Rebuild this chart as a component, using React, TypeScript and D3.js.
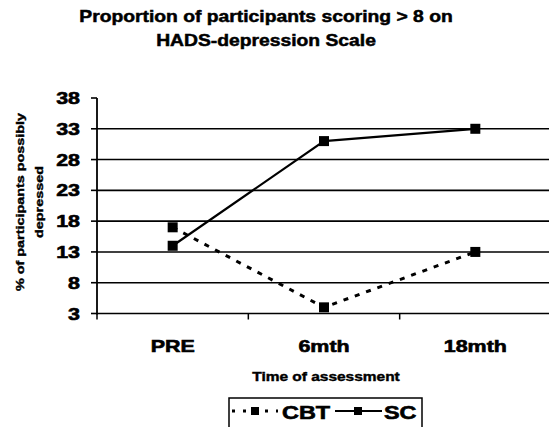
import React from "react";
import * as d3 from "d3";

const categories = ["PRE", "6mth", "18mth"];
const cbtValues = [17, 4, 13];
const scValues = [14, 31, 33];
const yTicks = [3, 8, 13, 18, 23, 28, 33, 38];
const gridValues = [3, 8, 13, 18, 23, 28, 33];
const titleLines = ["Proportion of participants scoring > 8 on", "HADS-depression Scale"];
const yLabelLines = ["% of participants possibly", "depressed"];
const xLabel = "Time of assessment";
const seriesNames = ["CBT", "SC"];

const W = 549;
const H = 427;
const FONT = "'Liberation Sans', Arial, Helvetica, sans-serif";

function SText(props: { x: number; y: number; sx: number; size: number; anchor?: string; children: React.ReactNode; rotate?: number; sw?: number }) {
  const { x, y, sx, size, anchor = "middle", children, rotate = 0, sw = 0.6 } = props;
  return (
    <text
      transform={`translate(${x},${y}) rotate(${rotate}) scale(${sx},1)`}
      textAnchor={anchor}
      fontFamily={FONT}
      fontWeight="bold"
      fontSize={size}
      fill="#000"
      stroke="#000"
      strokeWidth={sw}
    >
      {children}
    </text>
  );
}

export default function App() {
  const left = 97;
  const right = 551;
  const x = d3.scaleBand<string>().domain(categories).range([left, right]);
  const y = d3.scaleLinear().domain([3, 38]).range([313.5, 98]);
  const cx = (c: string) => (x(c) as number) + x.bandwidth() / 2;

  const line = d3
    .line<number>()
    .x((_, i) => cx(categories[i]))
    .y((d) => y(d));

  const ms = 10;
  const boundaries = [left, ...categories.map((c) => (x(c) as number) + x.bandwidth())];

  return (
    <svg width={W} height={H} style={{ position: "absolute", left: 0, top: 0, background: "#fff" }}>
      <rect x={0} y={0} width={W} height={H} fill="#fff" />
      {titleLines.map((t, i) => (
        <SText key={t} x={266} y={22 + i * 24} sx={1.17} size={16.5} sw={0.5}>
          {t}
        </SText>
      ))}
      {/* gridlines */}
      {gridValues.map((v) => (
        <line key={v} x1={left} x2={W} y1={y(v)} y2={y(v)} stroke="#000" strokeWidth={1.6} />
      ))}
      {/* y axis */}
      <line x1={left} x2={left} y1={y(38)} y2={y(3) + 1} stroke="#000" strokeWidth={1.8} />
      {yTicks.map((v) => (
        <line key={"t" + v} x1={left - 6} x2={left} y1={y(v)} y2={y(v)} stroke="#000" strokeWidth={1.6} />
      ))}
      {yTicks.map((v) => (
        <SText key={"l" + v} x={80} y={y(v) + 6} sx={1.3} size={16.5} anchor="end">
          {v}
        </SText>
      ))}
      {/* x ticks */}
      {boundaries.map((b, i) => (
        <line key={"xb" + i} x1={b} x2={b} y1={y(3)} y2={y(3) + 6} stroke="#000" strokeWidth={1.5} />
      ))}
      {categories.map((c) => (
        <SText key={c} x={cx(c)} y={352} sx={1.3} size={16.5}>
          {c}
        </SText>
      ))}
      <SText x={326} y={381} sx={1.29} size={12} sw={0.4}>
        {xLabel}
      </SText>
      {yLabelLines.map((t, i) => (
        <SText key={t} x={24 + i * 19} y={202} sx={1.25} size={11.5} rotate={-90} sw={0.4}>
          {t}
        </SText>
      ))}
      {/* series */}
      <path d={line(cbtValues) || ""} fill="none" stroke="#000" strokeWidth={3} strokeDasharray="5,7" />
      <path d={line(scValues) || ""} fill="none" stroke="#000" strokeWidth={2.2} />
      {cbtValues.map((v, i) => (
        <rect key={"c" + i} x={cx(categories[i]) - ms / 2} y={y(v) - ms / 2} width={ms} height={ms} fill="#000" />
      ))}
      {scValues.map((v, i) => (
        <rect key={"s" + i} x={cx(categories[i]) - ms / 2} y={y(v) - ms / 2} width={ms} height={ms} fill="#000" />
      ))}
      {/* legend */}
      <rect x={229} y={398} width={193} height={40} fill="#fff" stroke="#000" strokeWidth={1.5} />
      <line x1={232} x2={278} y1={411} y2={411} stroke="#000" strokeWidth={3} strokeDasharray="3,8" />
      <rect x={255 - 4} y={411 - 4} width={8} height={8} fill="#000" />
      <SText x={282} y={419} sx={1.3} size={18}>
        {""}
      </SText>
      <SText x={282} y={419} sx={1.3} size={18} anchor="start">
        {seriesNames[0]}
      </SText>
      <line x1={335} x2={382} y1={411} y2={411} stroke="#000" strokeWidth={2.2} />
      <rect x={358 - 4} y={411 - 4} width={8} height={8} fill="#000" />
      <SText x={384} y={419} sx={1.3} size={18} anchor="start">
        {seriesNames[1]}
      </SText>
    </svg>
  );
}
